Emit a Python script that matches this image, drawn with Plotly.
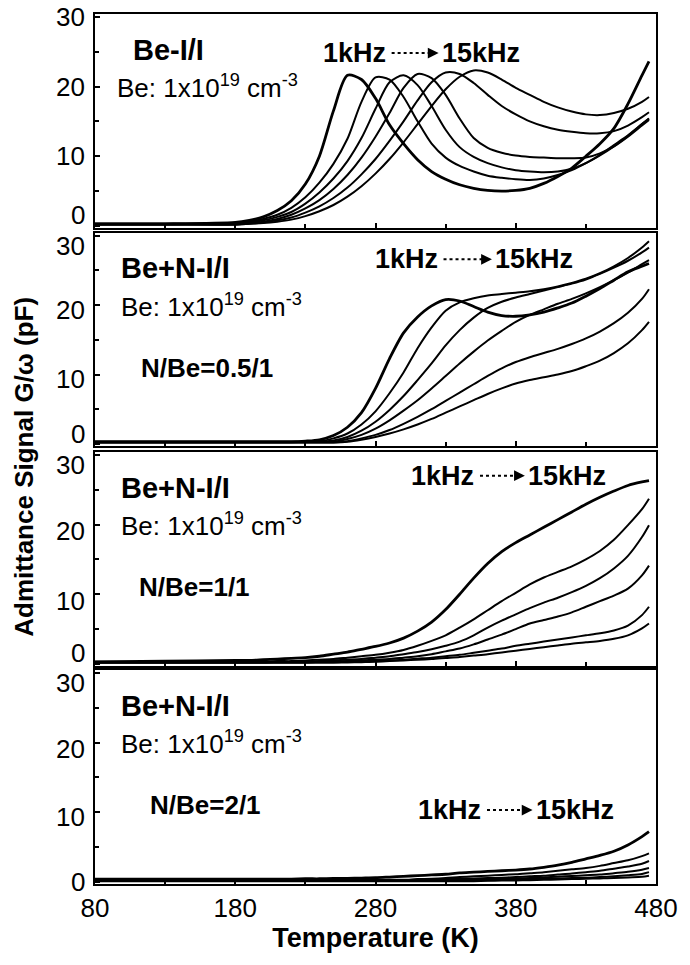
import plotly.graph_objects as go

# ---------------- data ----------------
T = [80, 130, 180, 190, 200, 210, 220, 230, 240, 250, 260, 270, 280, 290, 300, 310, 320,
     330, 340, 350, 360, 370, 380, 390, 400, 410, 420, 430, 440, 450, 460, 470, 475]

freq_names = ["1 kHz", "2 kHz", "4 kHz", "6 kHz", "10 kHz", "15 kHz"]

# Panel 1: Be-I/I
p1_c1 = [0.3,0.3,0.5,0.8,1.3,2.2,3.6,6.0,10.0,16.5,21.6,21.0,18.3,14.5,11.8,9.5,7.8,6.7,5.9,5.4,5.1,5.0,5.1,5.4,6.1,7.1,8.3,10.0,11.8,14.0,17.5,21.6,23.6]
p1_c2 = [0.3,0.3,0.4,0.6,1.0,1.6,2.6,4.1,6.2,8.9,12.5,17.8,21.3,21.0,18.5,15.0,11.8,9.8,8.6,7.8,7.2,6.9,6.7,6.6,6.8,7.3,8.0,9.0,10.2,11.6,13.0,14.6,15.4]
p1_c3 = [0.3,0.3,0.3,0.5,0.8,1.3,2.0,3.2,4.8,6.8,9.3,12.6,16.8,20.6,21.6,20.2,17.2,13.8,11.3,9.9,9.0,8.4,8.0,7.8,7.7,7.8,8.2,9.0,10.1,11.4,12.9,14.6,15.4]
p1_c4 = [0.2,0.2,0.2,0.4,0.6,1.0,1.6,2.5,3.7,5.3,7.3,9.8,12.8,16.2,19.8,21.8,21.2,18.8,15.4,12.6,11.2,10.5,10.1,9.9,9.8,9.7,9.7,9.8,10.4,11.4,12.8,14.4,15.2]
p1_c5 = [0.2,0.2,0.2,0.3,0.5,0.8,1.2,1.9,2.8,4.0,5.5,7.4,9.6,12.2,15.0,18.0,20.6,22.0,21.8,20.5,18.8,17.2,16.0,15.0,14.3,13.8,13.5,13.3,13.3,13.6,14.4,15.6,16.3]
p1_c6 = [0.2,0.2,0.2,0.3,0.4,0.6,0.9,1.4,2.1,3.0,4.2,5.7,7.5,9.6,12.0,14.6,17.2,19.6,21.4,22.3,22.0,21.0,19.8,18.8,17.8,17.0,16.4,16.0,15.9,16.2,16.8,17.8,18.5]

# Panel 2: Be+N-I/I, N/Be = 0.5/1
p2_c1 = [0.3,0.3,0.3,0.3,0.3,0.3,0.3,0.4,0.6,1.2,2.4,4.5,8.0,12.3,16.0,18.3,19.9,20.8,20.6,19.8,19.0,18.5,18.4,18.6,19.0,19.6,20.3,21.3,22.4,23.6,24.8,25.6,26.0]
p2_c2 = [0.3,0.3,0.3,0.3,0.3,0.3,0.3,0.3,0.4,0.8,1.5,2.8,4.7,7.3,10.3,13.8,16.8,19.2,20.4,21.0,21.4,21.6,21.8,22.0,22.3,22.7,23.2,23.8,24.6,25.6,26.8,28.3,29.2]
p2_c3 = [0.3,0.3,0.3,0.3,0.3,0.3,0.3,0.3,0.3,0.5,1.0,1.9,3.2,4.9,6.9,9.2,11.6,14.2,16.4,18.2,19.6,20.5,21.1,21.6,22.1,22.6,23.1,23.7,24.5,25.4,26.4,27.6,28.3]
p2_c4 = [0.3,0.3,0.3,0.3,0.3,0.3,0.3,0.3,0.3,0.3,0.7,1.3,2.2,3.4,4.8,6.3,8.0,9.8,11.6,13.3,14.9,16.3,17.6,18.6,19.4,20.2,20.9,21.7,22.6,23.6,24.7,25.9,26.5]
p2_c5 = [0.2,0.2,0.2,0.2,0.2,0.2,0.2,0.2,0.2,0.2,0.4,0.8,1.3,2.0,2.9,3.9,5.0,6.2,7.4,8.6,9.8,10.9,11.8,12.5,13.1,13.7,14.4,15.2,16.2,17.4,18.9,20.9,22.3]
p2_c6 = [0.2,0.2,0.2,0.2,0.2,0.2,0.2,0.2,0.2,0.2,0.3,0.6,1.0,1.5,2.1,2.8,3.6,4.5,5.4,6.3,7.2,8.0,8.7,9.2,9.6,10.0,10.5,11.2,12.0,13.1,14.5,16.4,17.6]

# Panel 3: Be+N-I/I, N/Be = 1/1
p3_c1 = [0.3,0.4,0.5,0.5,0.6,0.7,0.8,0.9,1.1,1.4,1.7,2.1,2.5,3.0,3.7,4.7,6.0,7.8,10.0,12.3,14.4,16.1,17.4,18.5,19.6,20.7,21.8,22.9,23.9,24.8,25.6,26.1,26.3]
p3_c2 = [0.3,0.3,0.3,0.3,0.3,0.4,0.4,0.5,0.6,0.7,0.9,1.1,1.3,1.6,2.0,2.6,3.3,4.1,5.2,6.4,7.7,9.0,10.2,11.4,12.4,13.2,14.0,15.0,16.2,17.8,19.9,22.2,23.7]
p3_c3 = [0.2,0.2,0.2,0.2,0.2,0.3,0.3,0.3,0.4,0.5,0.6,0.7,0.9,1.1,1.4,1.7,2.1,2.6,3.2,4.1,5.2,6.2,7.1,8.0,8.8,9.5,10.3,11.2,12.3,13.7,15.5,18.2,19.9]
p3_c4 = [0.2,0.2,0.2,0.2,0.2,0.2,0.2,0.2,0.3,0.3,0.4,0.5,0.6,0.7,0.9,1.1,1.4,1.8,2.2,2.8,3.5,4.2,5.0,5.8,6.3,6.8,7.4,8.2,9.0,9.8,10.8,12.7,14.1]
p3_c5 = [0.2,0.2,0.2,0.2,0.2,0.2,0.2,0.2,0.2,0.2,0.3,0.35,0.4,0.5,0.6,0.75,0.9,1.1,1.3,1.6,1.9,2.2,2.6,2.9,3.2,3.5,3.8,4.1,4.4,4.8,5.5,7.0,8.2]
p3_c6 = [0.2,0.2,0.2,0.2,0.2,0.2,0.2,0.2,0.2,0.2,0.2,0.25,0.3,0.4,0.5,0.6,0.7,0.85,1.0,1.2,1.4,1.65,1.9,2.15,2.4,2.65,2.9,3.1,3.3,3.6,4.1,5.1,5.8]

# Panel 4: Be+N-I/I, N/Be = 2/1
p4_c1 = [0.4,0.4,0.4,0.4,0.4,0.4,0.4,0.45,0.45,0.5,0.5,0.55,0.6,0.7,0.8,0.9,1.0,1.1,1.3,1.4,1.5,1.6,1.7,1.85,2.1,2.4,2.8,3.3,3.8,4.4,5.3,6.5,7.2]
p4_c2 = [0.3,0.3,0.3,0.3,0.3,0.3,0.3,0.3,0.3,0.3,0.3,0.3,0.3,0.3,0.3,0.4,0.45,0.55,0.7,0.8,0.9,1.0,1.1,1.25,1.4,1.6,1.8,2.0,2.3,2.7,3.1,3.7,4.1]
p4_c3 = [0.25,0.25,0.25,0.25,0.25,0.25,0.25,0.25,0.25,0.25,0.25,0.25,0.25,0.25,0.25,0.3,0.35,0.4,0.45,0.5,0.55,0.6,0.7,0.8,0.9,1.05,1.2,1.4,1.6,1.9,2.2,2.6,3.0]
p4_c4 = [0.2,0.2,0.2,0.2,0.2,0.2,0.2,0.2,0.2,0.2,0.2,0.2,0.2,0.2,0.2,0.2,0.2,0.25,0.3,0.35,0.4,0.45,0.5,0.55,0.65,0.75,0.85,0.95,1.05,1.25,1.45,1.75,2.0]
p4_c5 = [0.15,0.15,0.15,0.15,0.15,0.15,0.15,0.15,0.15,0.15,0.15,0.15,0.15,0.15,0.15,0.15,0.15,0.15,0.15,0.2,0.25,0.3,0.35,0.4,0.45,0.5,0.55,0.6,0.7,0.8,0.95,1.15,1.4]
p4_c6 = [0.1,0.1,0.1,0.1,0.1,0.1,0.1,0.1,0.1,0.1,0.1,0.1,0.1,0.1,0.1,0.1,0.1,0.1,0.1,0.1,0.15,0.2,0.2,0.25,0.3,0.35,0.4,0.45,0.5,0.55,0.65,0.75,0.9]

panels = [
    [p1_c1, p1_c2, p1_c3, p1_c4, p1_c5, p1_c6],
    [p2_c1, p2_c2, p2_c3, p2_c4, p2_c5, p2_c6],
    [p3_c1, p3_c2, p3_c3, p3_c4, p3_c5, p3_c6],
    [p4_c1, p4_c2, p4_c3, p4_c4, p4_c5, p4_c6],
]

x_ticks = [80, 180, 280, 380, 480]
x_minor = [130, 230, 330, 430]
y_ticks = [0, 10, 20, 30]
y_tick_text = ["0", "10", "20", "30"]
# where the reference prints its y tick labels in each panel (pF units)
y_label_pos = [
    [1.5, 10.0, 20.0, 30.0],
    [1.5, 9.3, 19.3, 28.5],
    [1.5, 9.0, 19.0, 28.5],
    [0.0, 9.3, 19.1, 28.5],
]

panel_titles = ["Be-I/I", "Be+N-I/I", "Be+N-I/I", "Be+N-I/I"]
ratio_labels = [None, "N/Be=0.5/1", "N/Be=1/1", "N/Be=2/1"]
conc_label = "Be: 1x10<sup>19</sup> cm<sup>-3</sup>"

# ---------------- layout helpers ----------------
FONT = "Liberation Sans, Arial, sans-serif"
W, H = 690, 965
ML, MR, MT, MB = 95, 21, 14, 81
PH = H - MT - MB
panel_px = [(14, 228), (233, 446), (452, 666), (670, 884)]
domains = [[1 - (b - MT) / PH, 1 - (t - MT) / PH] for t, b in panel_px]
domains[0][1] = 1.0
domains[3][0] = 0.0

# text placement (x in K, y in pF) for each panel
title_pos = [(105.7, 25.3), (97.4, 25.3), (97.4, 25.3), (97.4, 25.3)]
conc_pos = [(94.6, 20.0), (97.4, 20.0), (97.4, 20.0), (97.4, 20.0)]
ratio_pos = [None, (111.3, 11.0), (109.9, 11.0), (117.5, 11.0)]
# (1kHz right edge, dotted start, dotted end, tip, 15kHz left, y)
freq_pos = [
    (289.0, 291.5, 320.5, 325.0, 326.0, 24.8),
    (326.0, 328.5, 358.5, 363.0, 364.0, 26.6),
    (352.0, 354.5, 382.0, 386.5, 387.5, 27.0),
    (357.0, 359.5, 387.5, 392.0, 393.0, 10.3),
]

fig = go.Figure()

for i, curves in enumerate(panels):
    ax = "" if i == 0 else str(i + 1)
    for j, vals in enumerate(curves):
        fig.add_trace(go.Scatter(
            x=T, y=vals, mode="lines", name=freq_names[j],
            xaxis="x" + ax, yaxis="y" + ax, showlegend=False,
            line=dict(color="black", width=2.8 if j == 0 else 2.0,
                      shape="spline", smoothing=0.8),
            hoverinfo="skip"))

layout = dict(
    width=W, height=H,
    margin=dict(l=ML, r=MR, t=MT, b=MB),
    paper_bgcolor="white", plot_bgcolor="white",
    font=dict(family=FONT, color="black"),
    showlegend=False,
)

annotations = []
shapes = []
for i in range(4):
    ax = "" if i == 0 else str(i + 1)
    layout["xaxis" + ax] = dict(
        domain=[0, 1], range=[80, 480], anchor="y" + ax,
        showline=True, mirror=True, linewidth=2, linecolor="black",
        ticks="inside", ticklen=5, tickwidth=1.5, tickcolor="black",
        tickvals=x_ticks,
        minor=dict(tickvals=x_minor, ticks="inside", ticklen=4, tickcolor="black"),
        showticklabels=(i == 3), tickfont=dict(size=26, family=FONT),
        ticklabeloverflow="allow",
        showgrid=False, zeroline=False,
    )
    if i == 3:
        layout["xaxis" + ax]["title"] = dict(text="<b>Temperature (K)</b>",
                                             font=dict(size=27, family=FONT), standoff=4)
    if i != 0:
        layout["xaxis" + ax]["matches"] = "x"
    layout["yaxis" + ax] = dict(
        domain=domains[i], range=[-0.3, 30.4], anchor="x" + ax,
        showline=True, mirror=True, linewidth=2, linecolor="black",
        ticks="inside", ticklen=5, tickwidth=1.5, tickcolor="black",
        tickvals=y_ticks, showticklabels=False,
        minor=dict(tickvals=[5, 15, 25], ticks="inside", ticklen=4, tickcolor="black"),
        showgrid=False, zeroline=False,
    )
    xr, yr = "x" + ax, "y" + ax
    for txt, pos in zip(y_tick_text, y_label_pos[i]):
        annotations.append(dict(x=0, y=pos, xref="paper", yref=yr, text=txt,
                                showarrow=False, xanchor="right", yanchor="middle",
                                xshift=-8, font=dict(size=26, family=FONT)))
    tx, ty = title_pos[i]
    annotations.append(dict(x=tx, y=ty, xref=xr, yref=yr, text="<b>" + panel_titles[i] + "</b>",
                            showarrow=False, xanchor="left", yanchor="middle",
                            font=dict(size=29, family=FONT)))
    cx, cy = conc_pos[i]
    annotations.append(dict(x=cx, y=cy, xref=xr, yref=yr, text=conc_label,
                            showarrow=False, xanchor="left", yanchor="middle",
                            font=dict(size=26, family=FONT)))
    if ratio_labels[i]:
        rx, ry = ratio_pos[i]
        annotations.append(dict(x=rx, y=ry, xref=xr, yref=yr, text="<b>" + ratio_labels[i] + "</b>",
                                showarrow=False, xanchor="left", yanchor="middle",
                                font=dict(size=26, family=FONT)))
    k1, d0, d1, tip, k2, fy = freq_pos[i]
    annotations.append(dict(x=k1, y=fy, xref=xr, yref=yr, text="<b>1kHz</b>",
                            showarrow=False, xanchor="right", yanchor="middle",
                            font=dict(size=27, family=FONT)))
    annotations.append(dict(x=k2, y=fy, xref=xr, yref=yr, text="<b>15kHz</b>",
                            showarrow=False, xanchor="left", yanchor="middle",
                            font=dict(size=27, family=FONT)))
    shapes.append(dict(type="line", xref=xr, yref=yr, x0=d0, x1=d1, y0=fy, y1=fy,
                       line=dict(color="black", width=2, dash="dot")))
    annotations.append(dict(x=tip, y=fy, ax=d1 - 1, ay=fy, xref=xr, yref=yr,
                            axref=xr, ayref=yr, text=" ", showarrow=True,
                            arrowhead=2, arrowsize=1.2, arrowwidth=1.8, arrowcolor="black"))

annotations.append(dict(x=(22 - ML) / (W - ML - MR), y=1 - (467 - MT) / PH,
                        xref="paper", yref="paper",
                        text="<b>Admittance Signal G/\u03c9 (pF)</b>", textangle=-90,
                        showarrow=False, xanchor="center", yanchor="middle",
                        font=dict(size=26, family=FONT)))

layout["annotations"] = annotations
layout["shapes"] = shapes
fig.update_layout(**layout)

fig.write_html("out.html")
